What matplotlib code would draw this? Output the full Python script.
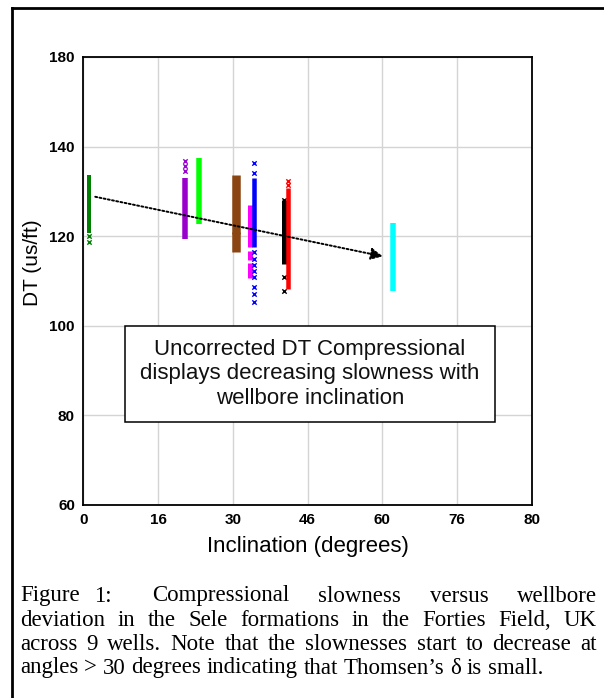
import matplotlib
matplotlib.use("Agg")
import matplotlib.pyplot as plt
from matplotlib.lines import Line2D
from matplotlib.patches import Rectangle

W, H = 604, 698

# x tick positions and the (odd) labels printed on the original chart
x_ticks = [0, 15, 30, 45, 60, 75, 90]
x_tick_labels = ["0", "16", "30", "46", "60", "76", "80"]
y_ticks = [60, 80, 100, 120, 140, 160]
y_tick_labels = ["60", "80", "100", "120", "140", "180"]

# one entry per well: inclination, colour, dense DT ranges, stray points
well_incl = [1.15, 20.5, 23.3, 30.6, 33.4, 34.2, 40.25, 41.1, 62.1]
well_color = ["#008000", "#9900cc", "#00ff00", "#8b4513", "#ff00ff",
              "#0000ff", "#000000", "#ff0000", "#00ffff"]
well_width = [4, 5.5, 5.5, 8.5, 5, 4.5, 5, 4.5, 5.5]
well_ranges = [
    [(120.8, 133.7)],
    [(119.3, 133.1)],
    [(122.7, 137.5)],
    [(120.6, 133.7), (116.5, 121.0)],
    [(117.7, 127.0), (114.7, 116.6), (110.6, 114.0)],
    [(117.7, 132.9)],
    [(113.8, 128.1)],
    [(108.2, 130.7)],
    [(107.8, 123.0)],
]
well_points = [
    [120.0, 118.6],
    [136.8, 135.7, 134.6],
    [],
    [],
    [],
    [136.3, 134.2, 116.5, 115.0, 113.6, 112.3, 111.0, 108.6, 107.0, 105.4],
    [128.1, 110.8, 107.8],
    [132.3, 131.5],
    [],
]

trend_start = (2.4, 128.8)
trend_end = (60.1, 115.5)

note = "Uncorrected DT Compressional\ndisplays decreasing slowness with\nwellbore inclination"

caption_lines = [
    ["Figure", "1:", "Compressional", "slowness", "versus", "wellbore"],
    ["deviation", "in", "the", "Sele", "formations", "in", "the", "Forties", "Field,", "UK"],
    ["across", "9", "wells.", "Note", "that", "the", "slownesses", "start", "to",
     "decrease", "at"],
    ["angles", ">", "30", "degrees", "indicating", "that", "Thomsen\u2019s", "\u03b4",
     "is", "small."],
]

plt.rcParams["font.family"] = ["Liberation Sans", "DejaVu Sans"]

fig = plt.figure(figsize=(W / 100, H / 100), dpi=100)
ax = fig.add_axes([83.3 / W, 1 - 505 / H, (531.7 - 83.3) / W, (505 - 57) / H])

for x, c, lw, rngs, pts in zip(well_incl, well_color, well_width, well_ranges, well_points):
    for lo, hi in rngs:
        ax.plot([x, x], [lo, hi], color=c, lw=lw * 0.72, solid_capstyle="butt", zorder=3)
    if pts:
        ax.scatter([x] * len(pts), pts, marker="x", s=10, color=c, linewidths=1.0, zorder=3)

ax.annotate("", xy=trend_end, xytext=trend_start,
            arrowprops=dict(arrowstyle="-|>,head_length=0.7,head_width=0.35",
                            color="black", lw=1.4, linestyle=(0, (1, 1.2)),
                            shrinkA=0, shrinkB=0),
            zorder=4)

ax.set_xlim(0, 90)
ax.set_ylim(60, 160)
ax.set_xticks(x_ticks)
ax.set_xticklabels(x_tick_labels)
ax.set_yticks(y_ticks)
ax.set_yticklabels(y_tick_labels)
ax.tick_params(length=0, pad=6, labelsize=11)
for lab in ax.get_xticklabels() + ax.get_yticklabels():
    lab.set_fontweight("bold")
ax.grid(True, color="#d4d4d4", lw=1.0)
ax.set_axisbelow(True)
for s in ax.spines.values():
    s.set_linewidth(1.3)

ax.set_xlabel("Inclination (degrees)", fontsize=16, labelpad=6)
ax.set_ylabel("DT (us/ft)", fontsize=15)
ax.yaxis.set_label_coords(-0.093, 0.54)

# note box
bx0, bx1 = (125 - 83.3) / 448.4, (495 - 83.3) / 448.4
by0, by1 = (505 - 421.7) / 448, (505 - 326) / 448
ax.add_patch(Rectangle((bx0, by0), bx1 - bx0, by1 - by0, transform=ax.transAxes,
                       facecolor="white", edgecolor="black", lw=1.1, zorder=5))
ax.text((bx0 + bx1) / 2, (by0 + by1) / 2, note, transform=ax.transAxes,
        ha="center", va="center", fontsize=16, linespacing=1.2, zorder=6,
        color="#111111")

# outer frame (only top and left edges show)
fig.add_artist(Line2D([12 / W, 12 / W], [0, 1 - 8 / H], color="black", lw=2,
                      transform=fig.transFigure))
fig.add_artist(Line2D([12 / W, 1], [1 - 8 / H, 1 - 8 / H], color="black", lw=2,
                      transform=fig.transFigure))

# justified caption
cap_font = dict(family=["Liberation Serif", "DejaVu Serif"], fontsize=16.5)
renderer = fig.canvas.get_renderer()
cx0, cx1 = 20, 597
line_y = [596, 620, 644, 668]
sp = fig.text(0, 0, "a a", **cap_font)
aa = fig.text(0, 0, "aa", **cap_font)
space_w = sp.get_window_extent(renderer).width - aa.get_window_extent(renderer).width
sp.remove()
aa.remove()
for i, (words, yy) in enumerate(zip(caption_lines, line_y)):
    texts = [fig.text(0, 1 - yy / H, w, va="center", ha="left", **cap_font) for w in words]
    widths = [t.get_window_extent(renderer).width for t in texts]
    weights = [1.0] * (len(words) - 1)
    if i == 0:
        weights[0] = 0.5
        weights[1] = 1.4
    if i < len(caption_lines) - 1:
        gap = (cx1 - cx0 - sum(widths)) / sum(weights)
    else:
        gap = space_w
    x = cx0
    for j, (t, w) in enumerate(zip(texts, widths)):
        t.set_x(x / W)
        if j < len(weights):
            x += w + gap * weights[j]

fig.savefig("out.png", dpi=100)
